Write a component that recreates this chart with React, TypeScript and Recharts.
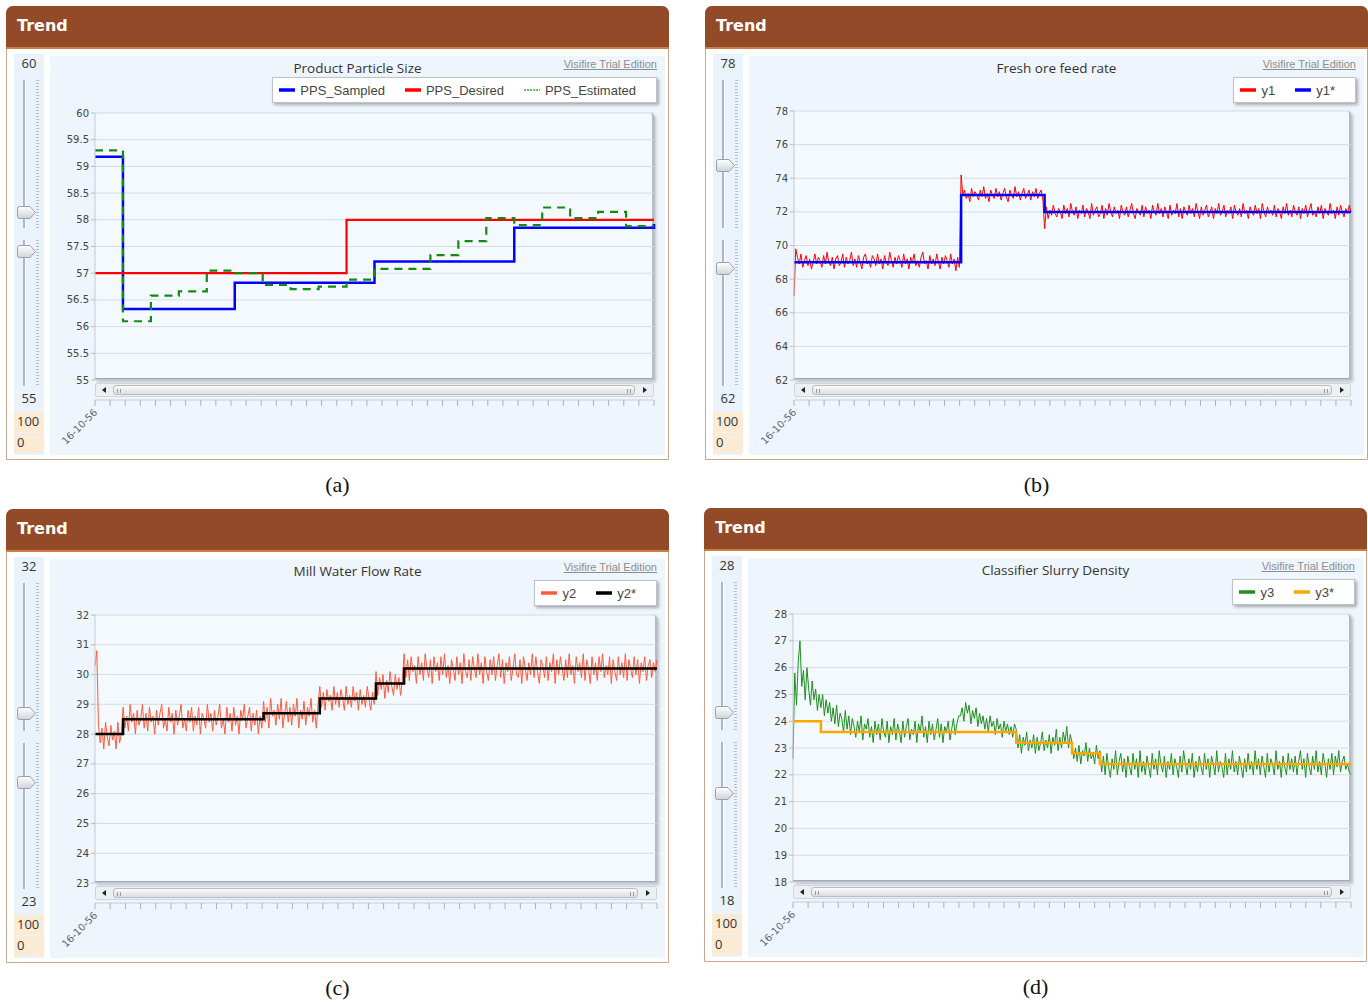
import React from 'react'
import { LineChart, Line, XAxis, YAxis, CartesianGrid } from 'recharts'

// ---------- (a) Product Particle Size : 20 sampling intervals ----------
const PPS_SAMPLED = [59.18, 56.33, 56.33, 56.33, 56.33, 56.82, 56.82, 56.82, 56.82, 56.82, 57.22, 57.22, 57.22, 57.22, 57.22, 57.85, 57.85, 57.85, 57.85, 57.85, 57.92]
const PPS_DESIRED = [57, 57, 57, 57, 57, 57, 57, 57, 57, 58, 58, 58, 58, 58, 58, 58, 58, 58, 58, 58, 58]
const PPS_ESTIMATED = [59.3, 56.1, 56.58, 56.66, 57.05, 57.0, 56.78, 56.7, 56.75, 56.88, 57.08, 57.08, 57.34, 57.6, 58.03, 57.9, 58.23, 58.03, 58.15, 57.88, 57.88]
const PPS_TICKS = [55, 55.5, 56, 56.5, 57, 57.5, 58, 58.5, 59, 59.5, 60]

// ---------- (b) Fresh ore feed rate : 321 samples ----------
const Y1 = [
  67.0, 69.8, 69.3, 68.9, 69.5, 68.7, 69.1, 69.4, 68.8, 69.2, 68.6, 69.0,
  69.5, 68.9, 69.3, 69.1, 68.7, 69.4, 68.9, 69.6, 69.0, 68.8, 69.3, 68.6,
  69.2, 69.4, 68.8, 69.0, 69.5, 68.7, 69.3, 68.9, 69.1, 69.6, 68.8, 69.2,
  68.7, 69.4, 69.0, 68.6, 69.3, 69.5, 68.9, 69.1, 68.7, 69.4, 69.2, 68.8,
  69.5, 68.9, 69.2, 68.6, 69.4, 69.0, 68.8, 69.6, 69.1, 68.7, 69.3, 68.9,
  69.4, 69.1, 68.7, 69.5, 68.9, 69.2, 68.6, 69.3, 69.0, 69.5, 68.8, 69.1,
  68.7, 69.3, 69.6, 68.9, 69.1, 68.6, 69.4, 68.9, 69.2, 68.8, 69.5, 69.0,
  68.6, 69.3, 68.9, 69.4, 69.1, 68.7, 69.5, 68.9, 69.2, 68.5, 69.3, 68.7,
  74.2, 73.0, 73.3, 72.8, 73.1, 72.6, 73.4, 72.9, 73.2, 73.0, 72.7, 73.3,
  72.9, 73.5, 72.8, 73.1, 72.6, 73.3, 73.0, 72.8, 73.4, 72.9, 73.2, 72.7,
  73.1, 73.4, 72.9, 72.6, 73.3, 73.0, 72.8, 73.5, 72.9, 73.2, 72.7, 73.1,
  73.4, 72.8, 73.0, 73.3, 72.7, 73.2, 72.9, 73.4, 72.8, 73.1, 73.3, 72.7,
  71.0, 72.3, 71.6, 72.1, 71.8, 72.4, 71.9, 71.7, 72.2, 72.0, 71.6, 72.4,
  71.9, 72.2, 71.7, 72.5, 72.0, 71.8, 72.3, 71.6, 72.1, 71.9, 72.4, 71.7,
  72.2, 72.0, 71.6, 72.5, 71.8, 72.1, 72.3, 71.7, 71.9, 72.4, 71.6, 72.2,
  71.8, 72.5, 72.0, 71.7, 72.3, 71.9, 72.1, 71.6, 72.4, 72.0, 71.8, 72.3,
  71.7, 72.1, 72.5, 71.9, 71.6, 72.2, 72.0, 71.8, 72.4, 71.7, 72.3, 71.9,
  72.1, 71.6, 72.4, 72.0, 71.8, 72.5, 71.9, 72.2, 71.7, 72.3, 72.0, 71.6,
  72.4, 71.8, 72.1, 71.9, 72.5, 71.7, 72.2, 71.6, 72.3, 72.0, 71.8, 72.4,
  71.9, 72.2, 71.7, 72.5, 72.0, 71.6, 72.3, 71.8, 72.1, 72.4, 71.7, 72.0,
  72.3, 71.6, 72.2, 71.9, 72.5, 71.8, 72.0, 72.4, 71.7, 72.1, 71.9, 72.3,
  71.6, 72.4, 72.0, 71.8, 72.2, 71.7, 72.5, 71.9, 72.1, 71.6, 72.3, 72.0,
  71.8, 72.4, 71.9, 72.2, 71.6, 72.5, 72.0, 71.7, 72.3, 71.9, 72.1, 71.8,
  72.4, 71.7, 72.2, 72.0, 71.6, 72.3, 71.9, 72.5, 71.8, 72.1, 71.7, 72.4,
  72.0, 71.8, 72.3, 71.6, 72.2, 71.9, 72.4, 71.7, 72.1, 72.5, 71.8, 72.0,
  71.7, 72.3, 71.9, 72.4, 71.6, 72.2, 72.0, 71.8, 72.5, 71.9, 72.1, 71.6,
  72.3, 71.8, 72.4, 72.0, 71.7, 72.2, 71.9, 72.4, 72.0,
]
const Y1_SET_AT = [0, 96, 144]
const Y1_SET = [69, 73, 72]
const FEED_TICKS = [62, 64, 66, 68, 70, 72, 74, 76, 78]

// ---------- (c) Mill Water Flow Rate : 321 samples ----------
const Y2 = [
  30.3, 30.8, 28.3, 27.7, 28.2, 27.5, 28.4, 27.9, 27.6, 28.3, 27.8, 28.1, 27.5, 28.4, 27.7, 28.0,
  28.9, 28.2, 28.6, 28.1, 29.0, 28.4, 28.7, 28.0, 28.8, 28.3,
  28.5, 29.0, 28.2, 28.7, 28.1, 28.9, 28.4, 28.6, 28.0, 28.8,
  28.3, 28.7, 29.0, 28.2, 28.5, 28.1, 28.9, 28.4, 28.7, 28.0,
  28.8, 28.3, 28.6, 29.0, 28.2, 28.5, 28.1, 28.8, 28.4, 28.9,
  28.1, 28.6, 28.3, 28.9, 28.0, 28.7, 28.5, 28.2, 29.0, 28.4,
  28.7, 28.1, 28.8, 28.3, 28.6, 29.0, 28.2, 28.5, 28.0, 28.9,
  28.4, 28.7, 28.1, 28.9, 28.3, 28.6, 28.0, 28.8, 28.5, 29.0,
  28.2, 28.6, 28.9, 28.1, 28.7, 28.3, 28.8, 28.0, 28.6, 28.2,
  29.1, 28.4, 28.9, 28.2, 29.2, 28.6, 28.8, 28.3, 29.0, 28.5, 29.2, 28.2, 28.7, 29.1, 28.4, 28.9,
  28.3, 29.0, 28.6, 29.2, 28.2, 28.8, 28.5, 29.1, 28.3, 28.9, 28.6, 29.2, 28.4, 28.8, 28.2, 29.0,
  29.6, 28.9, 29.4, 28.8, 29.5, 29.1, 29.3, 28.8, 29.6, 29.0, 29.4, 28.9, 29.5, 29.2, 28.8, 29.6,
  29.0, 29.3, 28.9, 29.6, 29.1, 29.4, 28.8, 29.5, 29.0, 29.3, 28.9, 29.6, 29.2, 28.8, 29.4, 29.0,
  30.1, 29.3, 29.9, 29.5, 30.0, 29.2, 29.8, 29.4, 30.1, 29.6, 29.3, 30.0, 29.5, 29.9, 29.3, 29.8,
  30.7, 29.9, 30.5, 29.8, 30.6, 30.1, 30.3, 29.7, 30.6, 30.0,
  30.4, 29.8, 30.7, 30.2, 29.9, 30.5, 29.7, 30.6, 30.1, 30.4,
  29.8, 30.6, 30.0, 30.7, 29.9, 30.3, 29.7, 30.5, 30.2, 29.8,
  30.6, 30.0, 30.4, 29.7, 30.7, 30.1, 29.9, 30.5, 29.8, 30.6,
  30.2, 29.9, 30.7, 30.0, 30.4, 29.7, 30.6, 30.1, 29.8, 30.5,
  30.0, 30.6, 29.8, 30.3, 30.7, 29.9, 30.5, 29.7, 30.4, 30.1,
  30.6, 29.8, 30.2, 30.7, 30.0, 29.9, 30.5, 29.7, 30.6, 30.2,
  29.8, 30.4, 30.0, 30.7, 29.9, 30.6, 30.1, 29.7, 30.5, 30.3,
  29.9, 30.6, 29.8, 30.4, 30.1, 30.7, 29.7, 30.5, 30.0, 30.6,
  30.2, 29.8, 30.5, 29.9, 30.7, 30.0, 30.3, 29.7, 30.6, 30.1,
  30.4, 29.9, 30.7, 29.8, 30.5, 30.2, 29.7, 30.6, 30.0, 30.4,
  29.8, 30.6, 30.1, 30.7, 29.9, 30.3, 30.0, 30.6, 29.7, 30.5,
  30.1, 29.8, 30.6, 30.0, 30.4, 29.9, 30.7, 29.8, 30.5, 30.2,
  29.9, 30.6, 30.0, 30.5, 29.7, 30.4, 30.1, 30.6, 29.8, 30.3,
  30.5, 29.9, 30.4, 30.1, 30.5,
]
const Y2_SET_AT = [0, 16, 96, 128, 160, 176]
const Y2_SET = [28, 28.5, 28.7, 29.2, 29.7, 30.2]
const WATER_TICKS = [23, 24, 25, 26, 27, 28, 29, 30, 31, 32]

// ---------- (d) Classifier Slurry Density : 321 samples ----------
const Y3 = [
  22.6, 25.8, 24.6, 26.2, 27.0, 25.3, 25.9, 24.8, 26.0, 25.2, 24.6, 25.5, 24.8, 25.2, 24.4, 25.0,
  24.5, 25.0, 24.2, 24.8, 24.3, 24.7, 24.0, 24.5, 23.9, 24.6,
  23.8, 24.3, 24.1, 23.6, 24.4, 23.7, 24.2, 23.5, 24.1, 23.8,
  23.4, 24.0, 23.6, 24.2, 23.3, 23.9, 23.7, 24.1, 23.4, 23.8,
  23.2, 24.0, 23.5, 23.9, 23.3, 24.1, 23.6, 23.4, 24.0, 23.2,
  23.8, 23.5, 24.1, 23.3, 23.9, 23.6, 23.2, 24.0, 23.4, 23.8,
  24.1, 23.3, 23.7, 23.5, 24.0, 23.2, 23.9, 23.6, 24.2, 23.4,
  23.8, 23.2, 24.0, 23.5, 23.9, 23.3, 23.7, 24.1, 23.4, 23.9,
  23.2, 23.8, 23.6, 24.0, 23.3, 23.7, 24.1, 23.5, 23.9, 24.2,
  24.2, 24.5, 24.0, 24.7, 24.3, 24.6, 23.9, 24.4, 24.1, 24.5, 23.8, 24.3, 23.9, 24.2, 23.7, 24.1,
  23.6, 24.2, 23.8, 24.0, 23.5, 24.1, 23.7, 23.9, 23.4, 24.0, 23.6, 23.9, 23.5, 23.8, 23.4, 23.9,
  23.7, 23.0, 23.5, 22.8, 23.4, 23.1, 23.6, 22.9, 23.3, 23.0, 23.5, 22.8, 23.4, 22.9, 23.2, 23.6,
  22.9, 23.3, 23.0, 23.5, 22.8, 23.4, 23.1, 23.7, 22.9, 23.4, 23.0, 23.6, 23.2, 23.8, 23.0, 23.5,
  23.2, 22.6, 23.0, 22.5, 23.1, 22.4, 22.9, 22.7, 23.2, 22.5, 23.0, 22.6, 22.8, 22.4, 23.1, 22.6,
  22.9, 22.1, 22.7, 22.0, 22.8, 22.3, 21.9, 22.6, 22.2, 22.9,
  22.0, 22.5, 22.8, 22.1, 22.6, 21.9, 22.7, 22.3, 22.0, 22.8,
  22.2, 22.6, 21.9, 22.9, 22.1, 22.5, 22.0, 22.7, 22.3, 21.9,
  22.8, 22.2, 22.6, 22.0, 22.9, 22.4, 22.1, 22.7, 21.9, 22.5,
  22.2, 22.8, 22.0, 22.6, 22.3, 21.9, 22.7, 22.1, 22.9, 22.4,
  22.0, 22.6, 22.2, 22.8, 21.9, 22.5, 22.1, 22.7, 22.3, 22.0,
  22.8, 22.2, 22.6, 21.9, 22.7, 22.4, 22.0, 22.9, 22.1, 22.5,
  22.3, 21.9, 22.8, 22.0, 22.6, 22.2, 22.9, 22.1, 22.5, 22.0,
  22.7, 22.3, 21.9, 22.6, 22.1, 22.8, 22.2, 22.5, 22.0, 22.9,
  22.2, 22.6, 22.0, 22.7, 22.3, 21.9, 22.8, 22.1, 22.6, 22.4,
  22.0, 22.9, 22.2, 22.5, 21.9, 22.7, 22.3, 22.0, 22.8, 22.2,
  22.6, 22.1, 22.7, 22.0, 22.5, 22.9, 22.2, 22.6, 21.9, 22.8,
  22.3, 22.0, 22.7, 22.2, 22.9, 22.1, 22.5, 22.0, 22.8, 22.4,
  21.9, 22.6, 22.2, 22.8, 22.0, 22.7, 22.3, 22.9, 22.1, 22.5,
  22.7, 22.2, 22.4, 22.1, 22.0,
]
const Y3_SET_AT = [0, 16, 128, 160, 176]
const Y3_SET = [24, 23.6, 23.2, 22.8, 22.4]
const DENSITY_TICKS = [18, 19, 20, 21, 22, 23, 24, 25, 26, 27, 28]

const DATE_LABEL = '16-10-56'

// ---------- layout ----------
const PANEL_W = 663
const PANEL_H = 454
const CHART_W = 615
const CHART_H = 399
const Y_AXIS_W = 40
const X_AXIS_H = 60
const M_LEFT = 5
const M_BOTTOM = 15
const N_TICKS = 38

type Series = {
  key: string
  name: string
  color: string
  width: number
  type: 'linear' | 'stepAfter'
  dash?: string
  legendDash?: string
  legendWidth?: number
  legendColor?: string
}

type Row = { x: number; [k: string]: number }

function setpointAt(at: number[], vals: number[], i: number) {
  let v = vals[0]
  at.forEach((start, k) => { if (i >= start) v = vals[k] })
  return v
}

const ppsRows: Row[] = PPS_SAMPLED.map((v, i) => ({ x: i, sampled: v, desired: PPS_DESIRED[i], estimated: PPS_ESTIMATED[i] }))
const feedRows: Row[] = Y1.map((v, i) => ({ x: i, y: v, set: setpointAt(Y1_SET_AT, Y1_SET, i) }))
const waterRows: Row[] = Y2.map((v, i) => ({ x: i, y: v, set: setpointAt(Y2_SET_AT, Y2_SET, i) }))
const densityRows: Row[] = Y3.map((v, i) => ({ x: i, y: v, set: setpointAt(Y3_SET_AT, Y3_SET, i) }))

function Slider({ max, min, thumbs }: { max: string; min: string; thumbs: number[] }) {
  const track = (top: number, h: number) => (
    <>
      <div style={{ position: 'absolute', left: 9, top, width: 2, height: h, background: '#aeb6be', borderRight: '1px solid #fff' }} />
      <div style={{ position: 'absolute', left: 22, top, width: 3, height: h, background: 'repeating-linear-gradient(#b8bec4 0 1px, transparent 1px 3px)' }} />
    </>
  )
  return (
    <div style={{ position: 'absolute', left: 7, top: 47, width: 30, height: 401, background: '#eaf3fb' }}>
      <div style={{ position: 'absolute', top: 0, width: 30, height: 18, lineHeight: '18px', textAlign: 'center', font: '13px "Open Sans"', color: '#333' }}>{max}</div>
      {track(26, 148)}
      {track(186, 146)}
      {thumbs.map((t, i) => (
        <svg key={i} width={20} height={13} style={{ position: 'absolute', left: 3, top: t - 6 }}>
          <defs>
            <linearGradient id={`th${i}`} x1="0" y1="0" x2="0" y2="1">
              <stop offset="0" stopColor="#ffffff" />
              <stop offset="1" stopColor="#cfd3d7" />
            </linearGradient>
          </defs>
          <path d="M2.5,0.5 H13 L18.5,6.5 L13,12.5 H2.5 Q0.5,12.5 0.5,10.5 V2.5 Q0.5,0.5 2.5,0.5 Z" fill={`url(#th${i})`} stroke="#9aa0a6" />
        </svg>
      ))}
      <div style={{ position: 'absolute', top: 335, width: 30, height: 18, lineHeight: '18px', textAlign: 'center', font: '13px "Open Sans"', color: '#333' }}>{min}</div>
      <div style={{ position: 'absolute', top: 358, width: 30, height: 20, lineHeight: '20px', background: '#fbead4', font: '13px "Open Sans"', color: '#333', paddingLeft: 3, boxSizing: 'border-box' }}>100</div>
      <div style={{ position: 'absolute', top: 379, width: 30, height: 20, lineHeight: '20px', background: '#fbead4', font: '13px "Open Sans"', color: '#333', paddingLeft: 3, boxSizing: 'border-box' }}>0</div>
    </div>
  )
}

function LegendBox({ items }: { items: Series[] }) {
  return (
    <div style={{ position: 'absolute', right: 8, top: 21, height: 26, display: 'flex', alignItems: 'center', gap: 20, padding: '0 20px 0 6px', background: '#fff', border: '1px solid #bcc3ca', boxShadow: '2px 2px 3px rgba(0,0,0,0.3)', boxSizing: 'border-box' }}>
      {items.map((s) => (
        <div key={s.key} style={{ display: 'flex', alignItems: 'center', gap: 5 }}>
          <svg width={16} height={6}>
            <line x1={0} y1={3} x2={16} y2={3} stroke={s.legendColor ?? s.color} strokeWidth={s.legendWidth ?? 3.5} strokeDasharray={s.legendDash} />
          </svg>
          <span style={{ font: '13px "Liberation Sans"', color: '#454545', whiteSpace: 'nowrap' }}>{s.name}</span>
        </div>
      ))}
    </div>
  )
}

function ScrollBar({ left, top, width }: { left: number; top: number; width: number }) {
  return (
    <div style={{ position: 'absolute', left, top, width, height: 14, background: '#edf0f3', border: '1px solid #cfd5db', borderRadius: 2, boxSizing: 'border-box' }}>
      <div style={{ position: 'absolute', left: 6, top: 3, width: 0, height: 0, borderTop: '3.5px solid transparent', borderBottom: '3.5px solid transparent', borderRight: '4px solid #222' }} />
      <div style={{ position: 'absolute', right: 6, top: 3, width: 0, height: 0, borderTop: '3.5px solid transparent', borderBottom: '3.5px solid transparent', borderLeft: '4px solid #222' }} />
      <div style={{ position: 'absolute', left: 17, right: 18, top: 1, bottom: 1, border: '1px solid #b6bdc4', borderRadius: 3, background: 'linear-gradient(#fbfbfb, #dadde1)' }}>
        <div style={{ position: 'absolute', left: 3, top: 3, width: 2, height: 4, borderLeft: '1px solid #999', borderRight: '1px solid #999' }} />
        <div style={{ position: 'absolute', right: 3, top: 3, width: 2, height: 4, borderLeft: '1px solid #999', borderRight: '1px solid #999' }} />
      </div>
    </div>
  )
}

type PanelProps = {
  x: number
  y: number
  caption: string
  title: string
  sliderMax: string
  sliderMin: string
  thumbs: number[]
  rows: Row[]
  series: Series[]
  yDomain: [number, number]
  yTicks: number[]
  xMax: number
  mTop: number
  mRight: number
}

function Panel(p: PanelProps) {
  const plotW = CHART_W - M_LEFT - Y_AXIS_W - p.mRight
  const plotH = CHART_H - p.mTop - M_BOTTOM - X_AXIS_H
  const plotL = M_LEFT + Y_AXIS_W
  const step = plotW / (N_TICKS - 1)
  const xTicks = Array.from({ length: N_TICKS }, (_, i) => (i * p.xMax) / (N_TICKS - 1))

  const DateTick = (props: any) => {
    const { x, y, index } = props
    return (
      <g>
        {index < N_TICKS - 1 && <line x1={x} y1={y + 20} x2={x + step} y2={y + 20} stroke="#c6cdd4" />}
        <line x1={x} y1={y + 20} x2={x} y2={y + 26} stroke="#a9b1b9" />
        {index === 0 && (
          <text x={x + 3} y={y + 33} transform={`rotate(-45 ${x + 3} ${y + 33})`} textAnchor="end" fontSize={10} fill="#5d6a80" fontFamily="DejaVu Sans">
            {DATE_LABEL}
          </text>
        )}
      </g>
    )
  }

  return (
    <>
      <div style={{ position: 'absolute', left: p.x, top: p.y, width: PANEL_W, height: PANEL_H, boxSizing: 'border-box', border: '1px solid #caa690', borderRadius: '7px 7px 0 0', background: '#fff' }}>
        <div style={{ position: 'absolute', left: -1, top: -1, right: -1, height: 41, background: '#934a28', borderRadius: '7px 7px 0 0', borderBottom: '2px solid #cf7d45', color: '#fff', font: 'bold 16px "DejaVu Sans"', lineHeight: '40px', paddingLeft: 11 }}>
          Trend
        </div>
        <Slider max={p.sliderMax} min={p.sliderMin} thumbs={p.thumbs} />
        <div style={{ position: 'absolute', left: 43, top: 49, width: CHART_W, height: CHART_H, background: '#eef5fc' }}>
          <div style={{ position: 'absolute', left: plotL, top: p.mTop, width: plotW, height: plotH, background: '#f4f9fe', borderRight: '2px solid #b3bbc3', borderBottom: '2px solid #a1a9b2', borderTopRightRadius: 4, boxShadow: '2px 2px 3px rgba(0,0,0,0.22)', boxSizing: 'border-box' }} />
          <LineChart width={CHART_W} height={CHART_H} data={p.rows} margin={{ top: p.mTop, right: p.mRight, left: M_LEFT, bottom: M_BOTTOM }}>
            <CartesianGrid vertical={false} stroke="#d6dce3" />
            <XAxis dataKey="x" type="number" domain={[0, p.xMax]} ticks={xTicks} interval={0} height={X_AXIS_H} axisLine={false} tickLine={false} tickSize={0} tickMargin={0} tick={<DateTick />} />
            <YAxis type="number" domain={p.yDomain} ticks={p.yTicks} interval={0} width={Y_AXIS_W} axisLine={{ stroke: '#c4cbd2' }} tickLine={{ stroke: '#b4bcc4' }} tickSize={4} tickMargin={2} tick={{ fontSize: 10, fill: '#444', fontFamily: 'DejaVu Sans' }} />
            {p.series.map((s) => (
              <Line key={s.key} dataKey={s.key} name={s.name} type={s.type} stroke={s.color} strokeWidth={s.width} strokeDasharray={s.dash} dot={false} activeDot={false} isAnimationActive={false} />
            ))}
          </LineChart>
          <ScrollBar left={plotL} top={p.mTop + plotH + 3} width={plotW} />
          <div style={{ position: 'absolute', left: 0, top: 4, width: CHART_W, textAlign: 'center', font: '13.5px "Open Sans"', lineHeight: '16px', color: '#333' }}>{p.title}</div>
          <div style={{ position: 'absolute', right: 8, top: 2, font: '11px "Liberation Sans"', color: '#8d8d8d', textDecoration: 'underline' }}>Visifire Trial Edition</div>
          <LegendBox items={p.series} />
        </div>
      </div>
      <div style={{ position: 'absolute', left: p.x, top: p.y + PANEL_H + 12, width: PANEL_W, textAlign: 'center', font: '22px "Liberation Serif"', lineHeight: '26px', color: '#111' }}>
        {p.caption}
      </div>
    </>
  )
}

const PPS_SERIES: Series[] = [
  { key: 'sampled', name: 'PPS_Sampled', color: '#0000ff', width: 2.5, type: 'stepAfter' },
  { key: 'desired', name: 'PPS_Desired', color: '#ff0000', width: 2.2, type: 'stepAfter' },
  { key: 'estimated', name: 'PPS_Estimated', color: '#138a13', width: 2.2, type: 'stepAfter', dash: '8 6', legendDash: '2 1', legendWidth: 2, legendColor: '#66c266' },
]
const FEED_SERIES: Series[] = [
  { key: 'y', name: 'y1', color: '#ff0000', width: 1, type: 'linear' },
  { key: 'set', name: 'y1*', color: '#0000ff', width: 2.5, type: 'stepAfter' },
]
const WATER_SERIES: Series[] = [
  { key: 'y', name: 'y2', color: '#ff5a3c', width: 1, type: 'linear' },
  { key: 'set', name: 'y2*', color: '#000000', width: 2.5, type: 'stepAfter' },
]
const DENSITY_SERIES: Series[] = [
  { key: 'y', name: 'y3', color: '#1f8f1f', width: 1, type: 'linear' },
  { key: 'set', name: 'y3*', color: '#ffa500', width: 2.5, type: 'stepAfter' },
]

export default function App() {
  return (
    <div style={{ position: 'absolute', left: 0, top: 0, width: 1368, height: 1005, background: '#fff', overflow: 'hidden' }}>
      <Panel x={6} y={6} caption="(a)" title="Product Particle Size" sliderMax="60" sliderMin="55" thumbs={[158, 197]}
        rows={ppsRows} series={PPS_SERIES} yDomain={[55, 60]} yTicks={PPS_TICKS} xMax={PPS_SAMPLED.length - 1} mTop={57} mRight={11} />
      <Panel x={705} y={6} caption="(b)" title="Fresh ore feed rate" sliderMax="78" sliderMin="62" thumbs={[111, 214]}
        rows={feedRows} series={FEED_SERIES} yDomain={[62, 78]} yTicks={FEED_TICKS} xMax={Y1.length - 1} mTop={55} mRight={13} />
      <Panel x={6} y={509} caption="(c)" title="Mill Water Flow Rate" sliderMax="32" sliderMin="23" thumbs={[156, 225]}
        rows={waterRows} series={WATER_SERIES} yDomain={[23, 32]} yTicks={WATER_TICKS} xMax={Y2.length - 1} mTop={56} mRight={8} />
      <Panel x={704} y={508} caption="(d)" title="Classifier Slurry Density" sliderMax="28" sliderMin="18" thumbs={[156, 237]}
        rows={densityRows} series={DENSITY_SERIES} yDomain={[18, 28]} yTicks={DENSITY_TICKS} xMax={Y3.length - 1} mTop={56} mRight={12} />
    </div>
  )
}
